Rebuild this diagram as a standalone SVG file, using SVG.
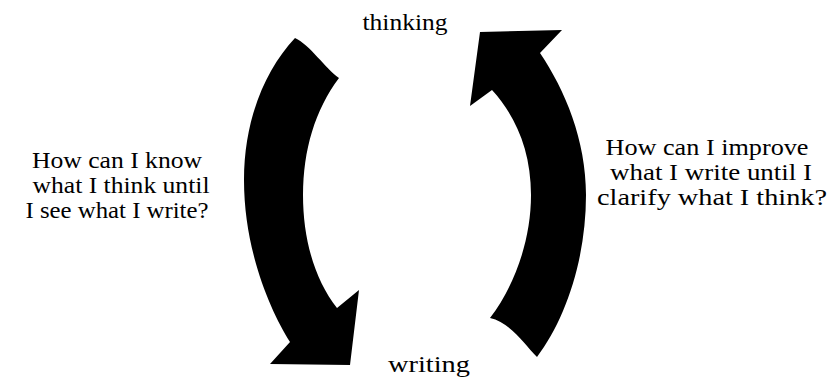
<svg xmlns="http://www.w3.org/2000/svg" width="831" height="386" viewBox="0 0 831 386">
<style>
.t{font-family:"Liberation Serif","Tinos","Times New Roman","DejaVu Serif",serif;font-size:24px;fill:#000;text-anchor:middle}
.arrow{fill:#000;stroke:none}
</style>
<rect width="831" height="386" fill="#fff"/>
<g id="connectors">
<path id="arrow-thinking-to-writing" class="arrow" d="M 295,38 C 310,45 325,68 339,78 C 315,110 303,150 303,195 C 303,240 315,280 337,308 L 359,290 L 350,365 L 270,364 L 290,342 C 270,310 244,250 244,180 C 244,120 265,70 295,38 Z"/>
<path id="arrow-writing-to-thinking" class="arrow" d="M 480,32 L 562,30 L 540,53 C 565,90 586,140 586,195 C 586,260 565,320 537,357 C 525,345 510,322 490,318 C 515,285 531,240 531,195 C 531,150 515,115 492,90 L 470,106 Z"/>
</g>
<g id="node-thinking"><text class="t" x="405" y="30" textLength="85" lengthAdjust="spacingAndGlyphs">thinking</text></g>
<g id="node-writing"><text class="t" x="429" y="372" textLength="82" lengthAdjust="spacingAndGlyphs">writing</text></g>
<g id="label-left">
<text class="t" x="117" y="168" textLength="170" lengthAdjust="spacingAndGlyphs">How can I know</text>
<text class="t" x="121" y="193" textLength="177" lengthAdjust="spacingAndGlyphs">what I think until</text>
<text class="t" x="117" y="218" textLength="183" lengthAdjust="spacingAndGlyphs">I see what I write?</text>
</g>
<g id="label-right">
<text class="t" x="707" y="155" textLength="203" lengthAdjust="spacingAndGlyphs">How can I improve</text>
<text class="t" x="711" y="180" textLength="202" lengthAdjust="spacingAndGlyphs">what I write until I</text>
<text class="t" x="712" y="205" textLength="230" lengthAdjust="spacingAndGlyphs">clarify what I think?</text>
</g>
</svg>
